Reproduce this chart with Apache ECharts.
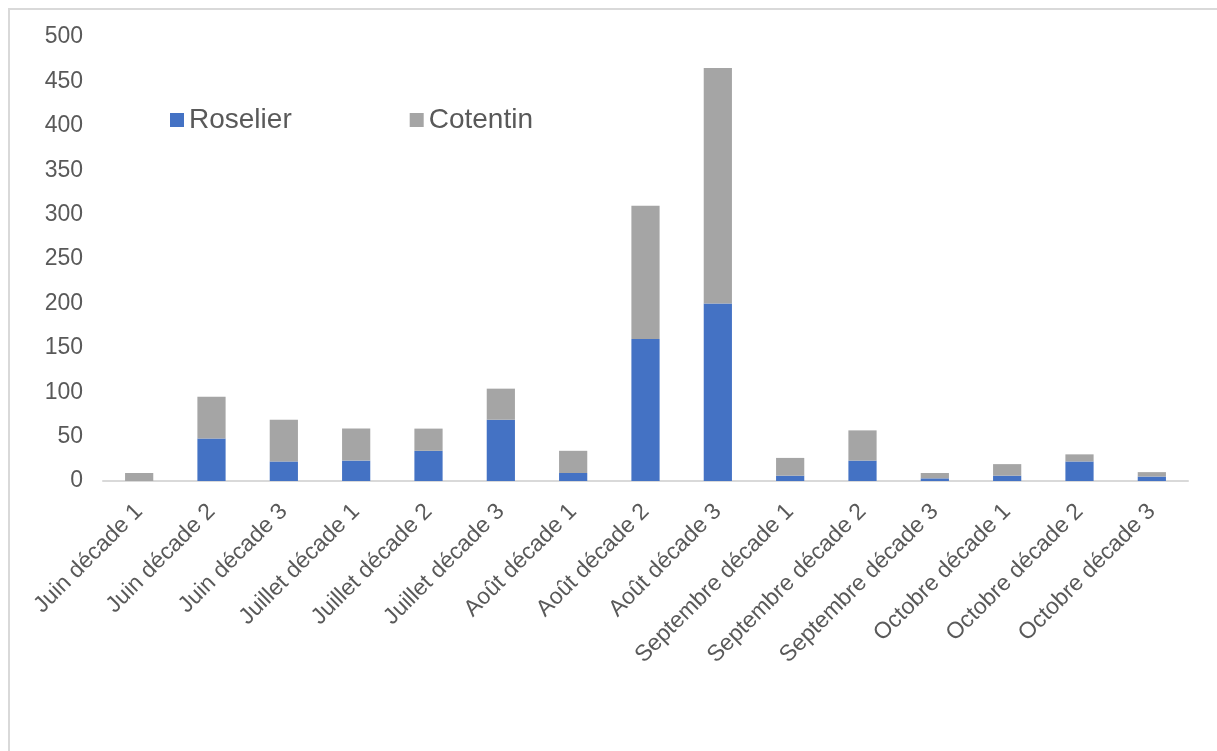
<!DOCTYPE html>
<html><head><meta charset="utf-8">
<script src="https://cdn.jsdelivr.net/npm/echarts@6/dist/echarts.min.js"></script>
<style>
html,body{margin:0;padding:0;background:#fff;}
#frame{position:absolute;left:8px;top:8px;width:1220px;height:760px;border:2px solid #d9d9d9;box-sizing:border-box;}
#c{position:absolute;left:0;top:0;width:1217px;height:751px;}
</style></head>
<body><div id="frame"></div><div id="c"></div>
<script>
const categories = ["Juin décade 1","Juin décade 2","Juin décade 3","Juillet décade 1","Juillet décade 2","Juillet décade 3","Août décade 1","Août décade 2","Août décade 3","Septembre décade 1","Septembre décade 2","Septembre décade 3","Octobre décade 1","Octobre décade 2","Octobre décade 3"];
const roselier = [0,48,22,23,34,69,9,160,200,6,23,3,6,22,5];
const cotentin = [9,47,47,36,25,35,25,150,265,20,34,6,13,8,5];
const yTicks = {min:0,max:500,interval:50};

const chart = echarts.init(document.getElementById('c'));
chart.setOption({
  animation:false,
  textStyle:{fontFamily:'Liberation Sans, Arial, sans-serif'},
  legend:{left:165,top:101,itemWidth:14,itemHeight:14,itemGap:118,icon:'rect',
    textStyle:{fontSize:28,color:'#595959',padding:[0,0,0,0]},
    data:['Roselier','Cotentin']},
  grid:{left:103,right:29,top:37,bottom:270,containLabel:false},
  xAxis:{type:'category',data:categories,
    axisLine:{lineStyle:{color:'#d9d9d9',width:2}},axisTick:{show:false},
    axisLabel:{rotate:45,fontSize:23,color:'#595959',interval:0,margin:27}},
  yAxis:{type:'value',min:yTicks.min,max:yTicks.max,interval:yTicks.interval,
    splitLine:{show:false},axisLine:{show:false},axisTick:{show:false},
    axisLabel:{fontSize:23,color:'#595959',margin:20}},
  series:[
    {name:'Roselier',type:'bar',stack:'a',data:roselier,barWidth:'39%',itemStyle:{color:'#4472C4'}},
    {name:'Cotentin',type:'bar',stack:'a',data:cotentin,barWidth:'39%',itemStyle:{color:'#A5A5A5'}}
  ]
});
</script></body></html>
